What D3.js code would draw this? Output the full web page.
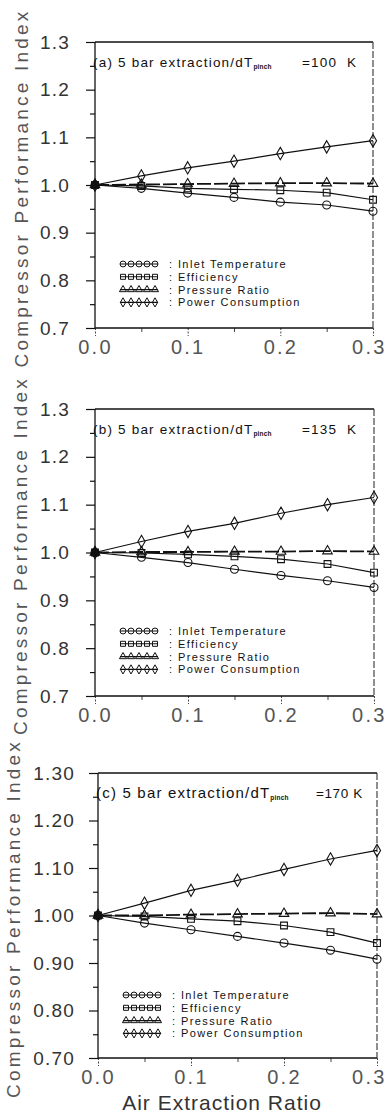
<!DOCTYPE html>
<html>
<head>
<meta charset="utf-8">
<script src="https://cdn.jsdelivr.net/npm/d3@7"></script>
<style>
  body { margin: 0; background: #fff; }
  svg { display: block; font-family: "Liberation Sans", Arial, sans-serif; }
</style>
</head>
<body>
<svg id="chart" width="387" height="1114"></svg>
<script>
// air extraction ratio (x)
const extraction = [0, 0.05, 0.1, 0.15, 0.2, 0.25, 0.3];

const seriesNames = ['Inlet Temperature', 'Efficiency', 'Pressure Ratio', 'Power Consumption'];

// panel (a) dT_pinch = 100 K
const inletA = [1.000, 0.993, 0.983, 0.974, 0.964, 0.958, 0.945];
const effA   = [1.000, 0.998, 0.993, 0.991, 0.989, 0.984, 0.969];
const pressA = [1.000, 1.001, 1.002, 1.003, 1.004, 1.004, 1.003];
const powerA = [1.000, 1.019, 1.036, 1.050, 1.066, 1.080, 1.093];

// panel (b) dT_pinch = 135 K
const inletB = [1.000, 0.990, 0.979, 0.965, 0.952, 0.941, 0.927];
const effB   = [1.000, 0.999, 0.996, 0.992, 0.986, 0.976, 0.958];
const pressB = [1.000, 1.001, 1.001, 1.002, 1.002, 1.003, 1.002];
const powerB = [1.000, 1.023, 1.044, 1.061, 1.082, 1.100, 1.115];

// panel (c) dT_pinch = 170 K
const inletC = [1.000, 0.984, 0.970, 0.956, 0.942, 0.927, 0.908];
const effC   = [1.000, 0.998, 0.993, 0.988, 0.979, 0.965, 0.942];
const pressC = [1.000, 1.000, 1.002, 1.003, 1.004, 1.005, 1.003];
const powerC = [1.000, 1.026, 1.053, 1.074, 1.097, 1.119, 1.137];

const panelLabels = ['(a) 5 bar extraction/dT', '(b) 5 bar extraction/dT', '(c) 5 bar extraction/dT'];
const pinchLabels = ['=100  K', '=135  K', '=170 K'];

const xTicks = [0, 0.1, 0.2, 0.3];
const yTicks = [0.7, 0.8, 0.9, 1.0, 1.1, 1.2, 1.3];

const panels = [
  { left: 95, right: 373, top: 42,  bottom: 328, fmt: '.1f', titleX: 21, titleFs: 13.5, eqX: 302, eqLs: 1.2,
    data: [inletA, effA, pressA, powerA] },
  { left: 95, right: 374, top: 409, bottom: 696, fmt: '.1f', titleX: 20, titleFs: 13.5, eqX: 302, eqLs: 1.2,
    data: [inletB, effB, pressB, powerB] },
  { left: 98, right: 377, top: 773, bottom: 1058, fmt: '.2f', titleX: 13, titleFs: 15, eqX: 316, eqLs: 0.6,
    data: [inletC, effC, pressC, powerC] }
];

const symbols = [d3.symbolCircle, d3.symbolSquare, d3.symbolTriangle, d3.symbolDiamond];
const symSizes = [50, 46, 40, 44];

const svg = d3.select('#chart');

panels.forEach((p, pi) => {
  const x = d3.scaleLinear().domain([0, 0.3]).range([p.left, p.right]);
  const y = d3.scaleLinear().domain([0.7, 1.3]).range([p.bottom, p.top]);
  const g = svg.append('g');

  // minor y ticks
  g.append('g')
    .attr('transform', `translate(${p.left},0)`)
    .call(d3.axisLeft(y).tickValues(d3.range(0.75, 1.3, 0.1)).tickSize(5).tickFormat(''))
    .call(a => a.select('.domain').remove())
    .selectAll('line').attr('stroke', '#111').attr('stroke-width', 1.2);

  // major y ticks
  const ya = g.append('g')
    .attr('transform', `translate(${p.left},0)`)
    .call(d3.axisLeft(y).tickValues(yTicks).tickSize(9).tickPadding(pi === 2 ? 14 : 16)
      .tickFormat(d3.format(p.fmt)));
  ya.select('.domain').remove();
  ya.selectAll('line').attr('stroke', '#111').attr('stroke-width', 1.2);
  ya.selectAll('text').attr('font-size', 19).attr('fill', '#333')
    .attr('letter-spacing', 1.2).attr('font-family', '"Liberation Sans", Arial, sans-serif');

  // x ticks
  g.append('g')
    .attr('transform', `translate(0,${p.bottom})`)
    .call(d3.axisBottom(x).tickValues([0.05, 0.15, 0.25]).tickSize(4).tickFormat(''))
    .call(a => a.select('.domain').remove())
    .selectAll('line').attr('stroke', '#444');

  const xa = g.append('g')
    .attr('transform', `translate(0,${p.bottom})`)
    .call(d3.axisBottom(x).tickValues(xTicks).tickSize(8).tickPadding(4)
      .tickFormat(d3.format('.1f')));
  xa.select('.domain').remove();
  xa.selectAll('line').attr('stroke', '#444').attr('stroke-dasharray', '2,1.5');
  xa.selectAll('text').attr('font-size', 20).attr('fill', '#555')
    .attr('letter-spacing', 2.2).attr('font-family', '"Liberation Sans", Arial, sans-serif')
    .attr('text-anchor', d => d === 0.3 ? 'end' : 'middle')
    .attr('x', d => d === 0.3 ? 386 - p.right : 0);

  // frame
  g.append('line').attr('x1', p.left).attr('x2', p.right).attr('y1', p.top).attr('y2', p.top)
    .attr('stroke', '#111').attr('stroke-width', 1.3);
  g.append('line').attr('x1', p.left).attr('x2', p.right).attr('y1', p.bottom).attr('y2', p.bottom)
    .attr('stroke', '#111').attr('stroke-width', 1.3);
  g.append('line').attr('x1', p.left).attr('x2', p.left).attr('y1', p.top).attr('y2', p.bottom)
    .attr('stroke', '#111').attr('stroke-width', 1.3);
  g.append('line').attr('x1', p.right).attr('x2', p.right).attr('y1', p.top).attr('y2', p.bottom)
    .attr('stroke', '#333').attr('stroke-width', 1.1).attr('stroke-dasharray', '7,2');

  // y title
  g.append('text')
    .attr('transform', `translate(${p.titleX},${(p.top + p.bottom) / 2 + 3}) rotate(-90)`)
    .attr('text-anchor', 'middle').attr('dominant-baseline', 'central')
    .attr('font-size', 19).attr('letter-spacing', 3.2).attr('fill', '#555')
    .text('Compressor Performance Index');

  // panel title
  const t = g.append('text')
    .attr('x', p.left - 2).attr('y', p.top + 25)
    .attr('font-size', p.titleFs).attr('letter-spacing', 1.2).attr('fill', '#111');
  t.append('tspan').text(panelLabels[pi]);
  t.append('tspan').attr('font-size', 6.5).attr('font-weight', 'bold').attr('dy', 2)
    .attr('letter-spacing', 0.2).attr('fill', '#111').text('pinch');
  g.append('text').attr('x', p.eqX).attr('y', p.top + 25)
    .attr('font-size', 13.5).attr('letter-spacing', p.eqLs).attr('fill', '#111')
    .style('white-space', 'pre').text(pinchLabels[pi]);

  // series
  const line = d3.line().x((d, i) => x(extraction[i])).y(d => y(d));
  p.data.forEach((vals, si) => {
    g.append('path').datum(vals)
      .attr('d', line)
      .attr('fill', 'none').attr('stroke', '#111')
      .attr('stroke-width', si === 2 ? 1.8 : 1.2)
      .attr('stroke-dasharray', si === 2 ? '14,3' : null);
    g.selectAll(null).data(vals).join('path')
      .attr('transform', (d, i) => `translate(${x(extraction[i])},${y(d)})`)
      .attr('d', d3.symbol().type(symbols[si]).size(symSizes[si]))
      .attr('fill', 'none').attr('stroke', '#111').attr('stroke-width', 1.1);
  });
  // overlapping start point
  g.append('circle').attr('cx', x(0)).attr('cy', y(1)).attr('r', 3.5).attr('fill', '#111');

  // legend
  const ly = p.top + 222;
  seriesNames.forEach((name, si) => {
    const yy = ly + si * 12.8;
    const lx0 = p.left + 25, lx1 = p.left + 63;
    g.append('line').attr('x1', lx0).attr('x2', lx1).attr('y1', yy).attr('y2', yy)
      .attr('stroke', '#111').attr('stroke-width', 1.1);
    d3.range(5).forEach(k => {
      g.append('path')
        .attr('transform', `translate(${lx0 + 3 + k * 8},${yy})`)
        .attr('d', d3.symbol().type(symbols[si]).size(symSizes[si] * 0.55))
        .attr('fill', 'none').attr('stroke', '#111').attr('stroke-width', 1);
    });
    g.append('text').attr('x', p.left + 74).attr('y', yy + 4)
      .attr('font-size', 11).attr('letter-spacing', 1.4).attr('fill', '#111')
      .text(': ' + name).style('white-space', 'pre');
  });

  if (pi === 2) {
    g.append('text').attr('x', 222).attr('y', 1110)
      .attr('text-anchor', 'middle').attr('font-size', 21).attr('letter-spacing', 1)
      .attr('fill', '#333').text('Air Extraction Ratio');
  }
});
</script>
</body>
</html>
